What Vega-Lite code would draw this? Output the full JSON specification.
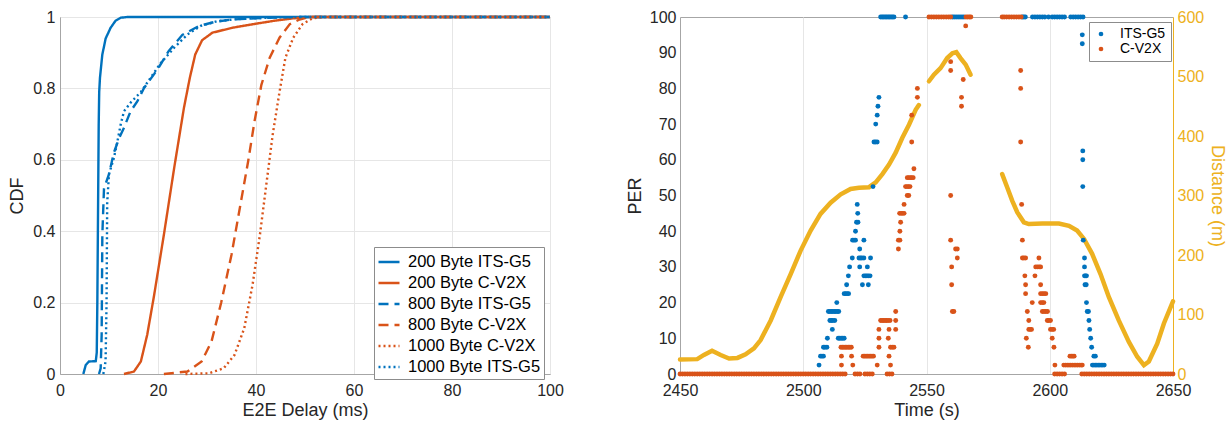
{
"$schema": "https://vega.github.io/schema/vega-lite/v6.json",
"background": "white",
"padding": {"left": 8, "top": 8, "right": 0, "bottom": 0},
"spacing": 61,
"config": {
  "font": "Liberation Sans",
  "view": {"stroke": "#a6a6a6", "strokeWidth": 1},
  "axis": {"labelFont": "Liberation Sans", "labelFontSize": 16, "labelColor": "#262626", "titleFont": "Liberation Sans", "titleFontSize": 18, "titleFontWeight": "normal", "titleColor": "#262626", "ticks": false, "domainColor": "#a6a6a6", "gridColor": "#e6e6e6", "labelFlush": false, "labelOverlap": false},
  "axisX": {"labelPadding": 8, "titlePadding": 3},
  "axisY": {"labelPadding": 5, "titlePadding": 6}
},
"datasets": {
"cdf": [
{"s":"200 Byte ITS-G5","x":4.76,"y":0},{"s":"200 Byte ITS-G5","x":5.25,"y":0.025},{"s":"200 Byte ITS-G5","x":5.9,"y":0.035},{"s":"200 Byte ITS-G5","x":7.3,"y":0.036},{"s":"200 Byte ITS-G5","x":7.5,"y":0.06},{"s":"200 Byte ITS-G5","x":7.62,"y":0.2},{"s":"200 Byte ITS-G5","x":7.76,"y":0.45},{"s":"200 Byte ITS-G5","x":7.9,"y":0.7},{"s":"200 Byte ITS-G5","x":8.0,"y":0.79},{"s":"200 Byte ITS-G5","x":8.16,"y":0.83},{"s":"200 Byte ITS-G5","x":8.64,"y":0.895},{"s":"200 Byte ITS-G5","x":9.32,"y":0.94},{"s":"200 Byte ITS-G5","x":10.34,"y":0.97},{"s":"200 Byte ITS-G5","x":11.36,"y":0.99},{"s":"200 Byte ITS-G5","x":12.4,"y":0.998},{"s":"200 Byte ITS-G5","x":13.7,"y":1},{"s":"200 Byte ITS-G5","x":100,"y":1},
{"s":"200 Byte C-V2X","x":13.06,"y":0},{"s":"200 Byte C-V2X","x":15.1,"y":0.007},{"s":"200 Byte C-V2X","x":16.5,"y":0.035},{"s":"200 Byte C-V2X","x":17.8,"y":0.11},{"s":"200 Byte C-V2X","x":19.2,"y":0.22},{"s":"200 Byte C-V2X","x":21.2,"y":0.39},{"s":"200 Byte C-V2X","x":23.3,"y":0.577},{"s":"200 Byte C-V2X","x":25.3,"y":0.746},{"s":"200 Byte C-V2X","x":26.5,"y":0.83},{"s":"200 Byte C-V2X","x":27.6,"y":0.895},{"s":"200 Byte C-V2X","x":29,"y":0.935},{"s":"200 Byte C-V2X","x":31.1,"y":0.956},{"s":"200 Byte C-V2X","x":35.2,"y":0.97},{"s":"200 Byte C-V2X","x":39.9,"y":0.981},{"s":"200 Byte C-V2X","x":44,"y":0.99},{"s":"200 Byte C-V2X","x":47.4,"y":0.996},{"s":"200 Byte C-V2X","x":50.8,"y":1},{"s":"200 Byte C-V2X","x":100,"y":1},
{"s":"800 Byte ITS-G5","x":7.96,"y":0},{"s":"800 Byte ITS-G5","x":8.3,"y":0.016},{"s":"800 Byte ITS-G5","x":8.5,"y":0.11},{"s":"800 Byte ITS-G5","x":8.64,"y":0.39},{"s":"800 Byte ITS-G5","x":8.98,"y":0.52},{"s":"800 Byte ITS-G5","x":10,"y":0.56},{"s":"800 Byte ITS-G5","x":11,"y":0.62},{"s":"800 Byte ITS-G5","x":12.04,"y":0.66},{"s":"800 Byte ITS-G5","x":13.06,"y":0.69},{"s":"800 Byte ITS-G5","x":14.4,"y":0.736},{"s":"800 Byte ITS-G5","x":15.8,"y":0.764},{"s":"800 Byte ITS-G5","x":17.1,"y":0.8},{"s":"800 Byte ITS-G5","x":19.2,"y":0.84},{"s":"800 Byte ITS-G5","x":20.2,"y":0.86},{"s":"800 Byte ITS-G5","x":22.2,"y":0.905},{"s":"800 Byte ITS-G5","x":24.97,"y":0.95},{"s":"800 Byte ITS-G5","x":28.4,"y":0.975},{"s":"800 Byte ITS-G5","x":31.8,"y":0.987},{"s":"800 Byte ITS-G5","x":35.2,"y":0.993},{"s":"800 Byte ITS-G5","x":42,"y":0.998},{"s":"800 Byte ITS-G5","x":48.8,"y":1},{"s":"800 Byte ITS-G5","x":100,"y":1},
{"s":"800 Byte C-V2X","x":21.2,"y":0},{"s":"800 Byte C-V2X","x":26,"y":0.007},{"s":"800 Byte C-V2X","x":28.9,"y":0.035},{"s":"800 Byte C-V2X","x":30.9,"y":0.09},{"s":"800 Byte C-V2X","x":32.9,"y":0.2},{"s":"800 Byte C-V2X","x":35,"y":0.334},{"s":"800 Byte C-V2X","x":36.7,"y":0.465},{"s":"800 Byte C-V2X","x":38.4,"y":0.596},{"s":"800 Byte C-V2X","x":39.7,"y":0.708},{"s":"800 Byte C-V2X","x":41.1,"y":0.81},{"s":"800 Byte C-V2X","x":42.8,"y":0.886},{"s":"800 Byte C-V2X","x":44.8,"y":0.942},{"s":"800 Byte C-V2X","x":46.9,"y":0.98},{"s":"800 Byte C-V2X","x":48.9,"y":0.993},{"s":"800 Byte C-V2X","x":50.8,"y":1},{"s":"800 Byte C-V2X","x":100,"y":1},
{"s":"1000 Byte C-V2X","x":25.6,"y":0},{"s":"1000 Byte C-V2X","x":30.4,"y":0.002},{"s":"1000 Byte C-V2X","x":33.4,"y":0.016},{"s":"1000 Byte C-V2X","x":35.6,"y":0.053},{"s":"1000 Byte C-V2X","x":37.6,"y":0.128},{"s":"1000 Byte C-V2X","x":39.3,"y":0.25},{"s":"1000 Byte C-V2X","x":40.8,"y":0.39},{"s":"1000 Byte C-V2X","x":42.1,"y":0.53},{"s":"1000 Byte C-V2X","x":43.4,"y":0.67},{"s":"1000 Byte C-V2X","x":44.8,"y":0.79},{"s":"1000 Byte C-V2X","x":46,"y":0.886},{"s":"1000 Byte C-V2X","x":47.6,"y":0.942},{"s":"1000 Byte C-V2X","x":49.5,"y":0.98},{"s":"1000 Byte C-V2X","x":51.5,"y":0.996},{"s":"1000 Byte C-V2X","x":53.5,"y":1},{"s":"1000 Byte C-V2X","x":100,"y":1},
{"s":"1000 Byte ITS-G5","x":8.84,"y":0},{"s":"1000 Byte ITS-G5","x":9.3,"y":0.035},{"s":"1000 Byte ITS-G5","x":9.5,"y":0.2},{"s":"1000 Byte ITS-G5","x":9.63,"y":0.48},{"s":"1000 Byte ITS-G5","x":10,"y":0.56},{"s":"1000 Byte ITS-G5","x":11,"y":0.605},{"s":"1000 Byte ITS-G5","x":11.7,"y":0.65},{"s":"1000 Byte ITS-G5","x":12.4,"y":0.7},{"s":"1000 Byte ITS-G5","x":13.06,"y":0.736},{"s":"1000 Byte ITS-G5","x":14.4,"y":0.76},{"s":"1000 Byte ITS-G5","x":16.5,"y":0.79},{"s":"1000 Byte ITS-G5","x":18.5,"y":0.83},{"s":"1000 Byte ITS-G5","x":20.5,"y":0.87},{"s":"1000 Byte ITS-G5","x":23.3,"y":0.914},{"s":"1000 Byte ITS-G5","x":26,"y":0.951},{"s":"1000 Byte ITS-G5","x":28.7,"y":0.975},{"s":"1000 Byte ITS-G5","x":32,"y":0.988},{"s":"1000 Byte ITS-G5","x":36,"y":0.994},{"s":"1000 Byte ITS-G5","x":44,"y":0.999},{"s":"1000 Byte ITS-G5","x":50,"y":1},{"s":"1000 Byte ITS-G5","x":100,"y":1}
],
"dist": [
{"g":1,"t":2450,"d":24.5},{"g":1,"t":2457,"d":25},{"g":1,"t":2459.7,"d":32},{"g":1,"t":2463,"d":39},{"g":1,"t":2466.5,"d":32},{"g":1,"t":2469.9,"d":26},{"g":1,"t":2473.3,"d":27},{"g":1,"t":2476.6,"d":33},{"g":1,"t":2480,"d":43},{"g":1,"t":2482.7,"d":57},{"g":1,"t":2486.8,"d":90},{"g":1,"t":2490.8,"d":129},{"g":1,"t":2494.9,"d":168},{"g":1,"t":2498.9,"d":207},{"g":1,"t":2503,"d":241},{"g":1,"t":2507,"d":269},{"g":1,"t":2511.1,"d":288},{"g":1,"t":2515.2,"d":302},{"g":1,"t":2519.2,"d":311},{"g":1,"t":2522.6,"d":313},{"g":1,"t":2526.7,"d":314},{"g":1,"t":2529.4,"d":322},{"g":1,"t":2532.1,"d":336},{"g":1,"t":2534.8,"d":352},{"g":1,"t":2537.5,"d":372},{"g":1,"t":2540.2,"d":397},{"g":1,"t":2542.9,"d":419},{"g":1,"t":2545.6,"d":444},{"g":1,"t":2546.9,"d":452},
{"g":2,"t":2551,"d":492},{"g":2,"t":2553,"d":503},{"g":2,"t":2555.7,"d":514},{"g":2,"t":2558.4,"d":531},{"g":2,"t":2560.5,"d":539},{"g":2,"t":2562.1,"d":541},{"g":2,"t":2563.8,"d":531},{"g":2,"t":2565.9,"d":520},{"g":2,"t":2567.9,"d":503},
{"g":3,"t":2580.7,"d":336},{"g":3,"t":2582.8,"d":313},{"g":3,"t":2584.8,"d":291},{"g":3,"t":2586.8,"d":272},{"g":3,"t":2589.5,"d":255},{"g":3,"t":2591.5,"d":252},{"g":3,"t":2597,"d":253},{"g":3,"t":2603.7,"d":253},{"g":3,"t":2607.8,"d":249},{"g":3,"t":2611.1,"d":241},{"g":3,"t":2613.9,"d":227},{"g":3,"t":2617.2,"d":202},{"g":3,"t":2620.6,"d":168},{"g":3,"t":2624,"d":129},{"g":3,"t":2628,"d":90},{"g":3,"t":2632.1,"d":54},{"g":3,"t":2635.5,"d":29},{"g":3,"t":2638.2,"d":15},{"g":3,"t":2640.2,"d":21},{"g":3,"t":2643.6,"d":51},{"g":3,"t":2646.3,"d":85},{"g":3,"t":2650,"d":122}
],
"per": [
{"s":"ITS-G5","t":2506.4,"p":2.5},{"s":"ITS-G5","t":2507,"p":5},{"s":"ITS-G5","t":2507.6,"p":5},{"s":"ITS-G5","t":2508.2,"p":5},{"s":"ITS-G5","t":2508.2,"p":7.5},{"s":"ITS-G5","t":2508.8,"p":7.5},{"s":"ITS-G5","t":2509.6,"p":7.5},{"s":"ITS-G5","t":2509.8,"p":10},{"s":"ITS-G5","t":2511.8,"p":12.5},
{"s":"ITS-G5","t":2510.8,"p":15},{"s":"ITS-G5","t":2511.4,"p":15},{"s":"ITS-G5","t":2512,"p":15},{"s":"ITS-G5","t":2512.8,"p":15},
{"s":"ITS-G5","t":2510.2,"p":17.5},{"s":"ITS-G5","t":2510.8,"p":17.5},{"s":"ITS-G5","t":2511.4,"p":17.5},{"s":"ITS-G5","t":2512,"p":17.5},{"s":"ITS-G5","t":2512.6,"p":17.5},{"s":"ITS-G5","t":2513.2,"p":17.5},{"s":"ITS-G5","t":2513.8,"p":17.5},{"s":"ITS-G5","t":2514.4,"p":17.5},
{"s":"ITS-G5","t":2513.6,"p":20},
{"s":"ITS-G5","t":2514.2,"p":10},{"s":"ITS-G5","t":2514.8,"p":10},{"s":"ITS-G5","t":2515.4,"p":10},{"s":"ITS-G5","t":2516,"p":10},{"s":"ITS-G5","t":2516.6,"p":10},
{"s":"ITS-G5","t":2516.6,"p":22.5},{"s":"ITS-G5","t":2517.2,"p":22.5},{"s":"ITS-G5","t":2517.8,"p":22.5},{"s":"ITS-G5","t":2518.4,"p":22.5},
{"s":"ITS-G5","t":2517.6,"p":25},{"s":"ITS-G5","t":2518.3,"p":27.5},{"s":"ITS-G5","t":2518.8,"p":30},{"s":"ITS-G5","t":2519.9,"p":32.5},
{"s":"ITS-G5","t":2520,"p":37.5},{"s":"ITS-G5","t":2520.6,"p":37.5},{"s":"ITS-G5","t":2521.2,"p":37.5},{"s":"ITS-G5","t":2521.2,"p":40},{"s":"ITS-G5","t":2521.6,"p":42.5},{"s":"ITS-G5","t":2522.2,"p":42.5},{"s":"ITS-G5","t":2522.1,"p":45},{"s":"ITS-G5","t":2521.9,"p":47.5},
{"s":"ITS-G5","t":2522.9,"p":35},{"s":"ITS-G5","t":2522.6,"p":32.5},{"s":"ITS-G5","t":2523.2,"p":32.5},{"s":"ITS-G5","t":2523.8,"p":32.5},{"s":"ITS-G5","t":2524.6,"p":32.5},{"s":"ITS-G5","t":2522.9,"p":30},{"s":"ITS-G5","t":2524,"p":25},{"s":"ITS-G5","t":2524.6,"p":37.5},
{"s":"ITS-G5","t":2524.6,"p":27.5},{"s":"ITS-G5","t":2525.2,"p":27.5},{"s":"ITS-G5","t":2525.8,"p":27.5},{"s":"ITS-G5","t":2526.4,"p":27.5},{"s":"ITS-G5","t":2527.1,"p":27.5},{"s":"ITS-G5","t":2526,"p":30},{"s":"ITS-G5","t":2526.4,"p":25},{"s":"ITS-G5","t":2527.3,"p":32.5},
{"s":"ITS-G5","t":2528.3,"p":52.5},{"s":"ITS-G5","t":2528.7,"p":65},{"s":"ITS-G5","t":2529.3,"p":65},{"s":"ITS-G5","t":2530,"p":65},{"s":"ITS-G5","t":2529.4,"p":70},{"s":"ITS-G5","t":2530,"p":72.5},{"s":"ITS-G5","t":2530.3,"p":75},{"s":"ITS-G5","t":2530.7,"p":77.5},
{"s":"ITS-G5","t":2531.4,"p":100},{"s":"ITS-G5","t":2532,"p":100},{"s":"ITS-G5","t":2532.6,"p":100},{"s":"ITS-G5","t":2533.2,"p":100},{"s":"ITS-G5","t":2533.8,"p":100},{"s":"ITS-G5","t":2534.4,"p":100},{"s":"ITS-G5","t":2535,"p":100},{"s":"ITS-G5","t":2535.6,"p":100},{"s":"ITS-G5","t":2536.2,"p":100},{"s":"ITS-G5","t":2536.8,"p":100},{"s":"ITS-G5","t":2541.5,"p":100},
{"s":"ITS-G5","t":2560.5,"p":100},{"s":"ITS-G5","t":2561.2,"p":100},{"s":"ITS-G5","t":2562,"p":100},{"s":"ITS-G5","t":2562.8,"p":100},{"s":"ITS-G5","t":2563.6,"p":100},{"s":"ITS-G5","t":2564.4,"p":100},{"s":"ITS-G5","t":2565.2,"p":100},
{"s":"ITS-G5","t":2588.9,"p":100},{"s":"ITS-G5","t":2589.5,"p":100},{"s":"ITS-G5","t":2590.1,"p":100},
{"s":"ITS-G5","t":2593,"p":100},{"s":"ITS-G5","t":2594,"p":100},{"s":"ITS-G5","t":2595,"p":100},{"s":"ITS-G5","t":2596,"p":100},{"s":"ITS-G5","t":2597,"p":100},{"s":"ITS-G5","t":2598,"p":100},{"s":"ITS-G5","t":2599.5,"p":100},{"s":"ITS-G5","t":2601,"p":100},{"s":"ITS-G5","t":2602,"p":100},{"s":"ITS-G5","t":2603,"p":100},{"s":"ITS-G5","t":2604,"p":100},{"s":"ITS-G5","t":2605,"p":100},{"s":"ITS-G5","t":2606,"p":100},{"s":"ITS-G5","t":2608.5,"p":100},{"s":"ITS-G5","t":2609.5,"p":100},{"s":"ITS-G5","t":2610.5,"p":100},{"s":"ITS-G5","t":2611.5,"p":100},{"s":"ITS-G5","t":2612.5,"p":100},{"s":"ITS-G5","t":2613.5,"p":100},
{"s":"ITS-G5","t":2613.2,"p":95},{"s":"ITS-G5","t":2613.2,"p":92.5},{"s":"ITS-G5","t":2613.4,"p":62.5},{"s":"ITS-G5","t":2613.4,"p":60},{"s":"ITS-G5","t":2613.4,"p":52.5},{"s":"ITS-G5","t":2613.6,"p":37.5},{"s":"ITS-G5","t":2614.1,"p":32.5},{"s":"ITS-G5","t":2614.1,"p":30},
{"s":"ITS-G5","t":2614.1,"p":27.5},{"s":"ITS-G5","t":2614.5,"p":27.5},{"s":"ITS-G5","t":2614.9,"p":27.5},{"s":"ITS-G5","t":2614.3,"p":25},{"s":"ITS-G5","t":2614.8,"p":25},{"s":"ITS-G5","t":2614.9,"p":20},{"s":"ITS-G5","t":2615.2,"p":17.5},{"s":"ITS-G5","t":2615.7,"p":17.5},{"s":"ITS-G5","t":2615.9,"p":15},{"s":"ITS-G5","t":2616.2,"p":12.5},{"s":"ITS-G5","t":2616.6,"p":10},{"s":"ITS-G5","t":2617,"p":7.5},{"s":"ITS-G5","t":2617.9,"p":5},{"s":"ITS-G5","t":2618.5,"p":5},
{"s":"ITS-G5","t":2617.3,"p":2.5},{"s":"ITS-G5","t":2617.9,"p":2.5},{"s":"ITS-G5","t":2618.5,"p":2.5},{"s":"ITS-G5","t":2619.1,"p":2.5},{"s":"ITS-G5","t":2619.7,"p":2.5},{"s":"ITS-G5","t":2620.3,"p":2.5},{"s":"ITS-G5","t":2620.9,"p":2.5},{"s":"ITS-G5","t":2621.5,"p":2.5},{"s":"ITS-G5","t":2622.1,"p":2.5},
{"s":"C-V2X","t":2450,"p":0},{"s":"C-V2X","t":2451,"p":0},{"s":"C-V2X","t":2452,"p":0},{"s":"C-V2X","t":2453,"p":0},{"s":"C-V2X","t":2454,"p":0},{"s":"C-V2X","t":2455,"p":0},{"s":"C-V2X","t":2456,"p":0},{"s":"C-V2X","t":2457,"p":0},{"s":"C-V2X","t":2458,"p":0},{"s":"C-V2X","t":2459,"p":0},
{"s":"C-V2X","t":2460,"p":0},{"s":"C-V2X","t":2461,"p":0},{"s":"C-V2X","t":2462,"p":0},{"s":"C-V2X","t":2463,"p":0},{"s":"C-V2X","t":2464,"p":0},{"s":"C-V2X","t":2465,"p":0},{"s":"C-V2X","t":2466,"p":0},{"s":"C-V2X","t":2467,"p":0},{"s":"C-V2X","t":2468,"p":0},{"s":"C-V2X","t":2469,"p":0},
{"s":"C-V2X","t":2470,"p":0},{"s":"C-V2X","t":2471,"p":0},{"s":"C-V2X","t":2472,"p":0},{"s":"C-V2X","t":2473,"p":0},{"s":"C-V2X","t":2474,"p":0},{"s":"C-V2X","t":2475,"p":0},{"s":"C-V2X","t":2476,"p":0},{"s":"C-V2X","t":2477,"p":0},{"s":"C-V2X","t":2478,"p":0},{"s":"C-V2X","t":2479,"p":0},
{"s":"C-V2X","t":2480,"p":0},{"s":"C-V2X","t":2481,"p":0},{"s":"C-V2X","t":2482,"p":0},{"s":"C-V2X","t":2483,"p":0},{"s":"C-V2X","t":2484,"p":0},{"s":"C-V2X","t":2485,"p":0},{"s":"C-V2X","t":2486,"p":0},{"s":"C-V2X","t":2487,"p":0},{"s":"C-V2X","t":2488,"p":0},{"s":"C-V2X","t":2489,"p":0},
{"s":"C-V2X","t":2490,"p":0},{"s":"C-V2X","t":2491,"p":0},{"s":"C-V2X","t":2492,"p":0},{"s":"C-V2X","t":2493,"p":0},{"s":"C-V2X","t":2494,"p":0},{"s":"C-V2X","t":2495,"p":0},{"s":"C-V2X","t":2496,"p":0},{"s":"C-V2X","t":2497,"p":0},{"s":"C-V2X","t":2498,"p":0},{"s":"C-V2X","t":2499,"p":0},
{"s":"C-V2X","t":2500,"p":0},{"s":"C-V2X","t":2501,"p":0},{"s":"C-V2X","t":2502,"p":0},{"s":"C-V2X","t":2503,"p":0},{"s":"C-V2X","t":2504,"p":0},{"s":"C-V2X","t":2505,"p":0},{"s":"C-V2X","t":2506,"p":0},{"s":"C-V2X","t":2507,"p":0},{"s":"C-V2X","t":2508,"p":0},{"s":"C-V2X","t":2509,"p":0},
{"s":"C-V2X","t":2510,"p":0},{"s":"C-V2X","t":2511,"p":0},{"s":"C-V2X","t":2512,"p":0},{"s":"C-V2X","t":2513,"p":0},{"s":"C-V2X","t":2514,"p":0},{"s":"C-V2X","t":2515,"p":0},{"s":"C-V2X","t":2516,"p":0},{"s":"C-V2X","t":2517,"p":0},
{"s":"C-V2X","t":2521,"p":0},{"s":"C-V2X","t":2522,"p":0},{"s":"C-V2X","t":2523,"p":0},{"s":"C-V2X","t":2525,"p":0},{"s":"C-V2X","t":2526,"p":0},{"s":"C-V2X","t":2527,"p":0},{"s":"C-V2X","t":2528,"p":0},{"s":"C-V2X","t":2534,"p":0},{"s":"C-V2X","t":2535,"p":0},{"s":"C-V2X","t":2536,"p":0},
{"s":"C-V2X","t":2602,"p":0},{"s":"C-V2X","t":2603,"p":0},{"s":"C-V2X","t":2604,"p":0},{"s":"C-V2X","t":2605,"p":0},{"s":"C-V2X","t":2606,"p":0},
{"s":"C-V2X","t":2613,"p":0},{"s":"C-V2X","t":2614,"p":0},{"s":"C-V2X","t":2615,"p":0},{"s":"C-V2X","t":2616,"p":0},{"s":"C-V2X","t":2617,"p":0},{"s":"C-V2X","t":2618,"p":0},{"s":"C-V2X","t":2619,"p":0},{"s":"C-V2X","t":2620,"p":0},{"s":"C-V2X","t":2621,"p":0},{"s":"C-V2X","t":2622,"p":0},
{"s":"C-V2X","t":2623,"p":0},{"s":"C-V2X","t":2624,"p":0},{"s":"C-V2X","t":2625,"p":0},{"s":"C-V2X","t":2626,"p":0},{"s":"C-V2X","t":2627,"p":0},{"s":"C-V2X","t":2628,"p":0},{"s":"C-V2X","t":2629,"p":0},{"s":"C-V2X","t":2630,"p":0},{"s":"C-V2X","t":2631,"p":0},{"s":"C-V2X","t":2632,"p":0},
{"s":"C-V2X","t":2633,"p":0},{"s":"C-V2X","t":2634,"p":0},{"s":"C-V2X","t":2635,"p":0},{"s":"C-V2X","t":2636,"p":0},{"s":"C-V2X","t":2637,"p":0},{"s":"C-V2X","t":2638,"p":0},{"s":"C-V2X","t":2639,"p":0},{"s":"C-V2X","t":2640,"p":0},{"s":"C-V2X","t":2641,"p":0},{"s":"C-V2X","t":2642,"p":0},
{"s":"C-V2X","t":2643,"p":0},{"s":"C-V2X","t":2644,"p":0},{"s":"C-V2X","t":2645,"p":0},{"s":"C-V2X","t":2646,"p":0},{"s":"C-V2X","t":2647,"p":0},{"s":"C-V2X","t":2648,"p":0},{"s":"C-V2X","t":2649,"p":0},{"s":"C-V2X","t":2650,"p":0},
{"s":"C-V2X","t":2515.5,"p":2.5},{"s":"C-V2X","t":2515.5,"p":5},
{"s":"C-V2X","t":2515.3,"p":7.5},{"s":"C-V2X","t":2515.9,"p":7.5},{"s":"C-V2X","t":2516.5,"p":7.5},{"s":"C-V2X","t":2517.1,"p":7.5},{"s":"C-V2X","t":2517.7,"p":7.5},{"s":"C-V2X","t":2518.3,"p":7.5},{"s":"C-V2X","t":2518.9,"p":7.5},{"s":"C-V2X","t":2519.5,"p":7.5},
{"s":"C-V2X","t":2519.6,"p":5},{"s":"C-V2X","t":2520.1,"p":2.5},
{"s":"C-V2X","t":2524.3,"p":5},{"s":"C-V2X","t":2524.9,"p":5},{"s":"C-V2X","t":2525.5,"p":5},{"s":"C-V2X","t":2526.1,"p":5},{"s":"C-V2X","t":2526.7,"p":5},{"s":"C-V2X","t":2527.3,"p":5},{"s":"C-V2X","t":2527.9,"p":5},{"s":"C-V2X","t":2528.5,"p":5},
{"s":"C-V2X","t":2530,"p":2.5},{"s":"C-V2X","t":2530.7,"p":12.5},{"s":"C-V2X","t":2530.7,"p":10},{"s":"C-V2X","t":2530.7,"p":7.5},
{"s":"C-V2X","t":2531.4,"p":15},{"s":"C-V2X","t":2532,"p":15},{"s":"C-V2X","t":2532.6,"p":15},{"s":"C-V2X","t":2533.2,"p":15},{"s":"C-V2X","t":2533.8,"p":15},{"s":"C-V2X","t":2534.4,"p":15},{"s":"C-V2X","t":2535.2,"p":15},
{"s":"C-V2X","t":2534.5,"p":10},{"s":"C-V2X","t":2534.8,"p":12.5},{"s":"C-V2X","t":2534.8,"p":5},{"s":"C-V2X","t":2535.4,"p":2.5},{"s":"C-V2X","t":2535.4,"p":7.5},{"s":"C-V2X","t":2536.1,"p":7.5},{"s":"C-V2X","t":2536.8,"p":7.5},
{"s":"C-V2X","t":2537.5,"p":17.5},{"s":"C-V2X","t":2537.5,"p":15},{"s":"C-V2X","t":2537.5,"p":12.5},
{"s":"C-V2X","t":2538.6,"p":35},{"s":"C-V2X","t":2538.6,"p":37.5},{"s":"C-V2X","t":2539.2,"p":37.5},{"s":"C-V2X","t":2539.2,"p":40},{"s":"C-V2X","t":2539.5,"p":42.5},
{"s":"C-V2X","t":2539.1,"p":45},{"s":"C-V2X","t":2539.7,"p":45},{"s":"C-V2X","t":2540.3,"p":45},{"s":"C-V2X","t":2540.9,"p":45},{"s":"C-V2X","t":2540.9,"p":47.5},
{"s":"C-V2X","t":2542.2,"p":50},{"s":"C-V2X","t":2542.8,"p":50},{"s":"C-V2X","t":2541.5,"p":52.5},{"s":"C-V2X","t":2542.1,"p":52.5},{"s":"C-V2X","t":2542.7,"p":52.5},{"s":"C-V2X","t":2543.3,"p":52.5},
{"s":"C-V2X","t":2542.2,"p":55},{"s":"C-V2X","t":2542.8,"p":55},{"s":"C-V2X","t":2543.4,"p":55},{"s":"C-V2X","t":2544,"p":55},{"s":"C-V2X","t":2544.6,"p":55},{"s":"C-V2X","t":2544.9,"p":57.5},
{"s":"C-V2X","t":2544,"p":65},{"s":"C-V2X","t":2544,"p":72.5},{"s":"C-V2X","t":2546.3,"p":77.5},{"s":"C-V2X","t":2546.3,"p":80},
{"s":"C-V2X","t":2551,"p":100},{"s":"C-V2X","t":2552,"p":100},{"s":"C-V2X","t":2553,"p":100},{"s":"C-V2X","t":2554,"p":100},{"s":"C-V2X","t":2555,"p":100},{"s":"C-V2X","t":2556,"p":100},{"s":"C-V2X","t":2557,"p":100},{"s":"C-V2X","t":2558,"p":100},{"s":"C-V2X","t":2559,"p":100},{"s":"C-V2X","t":2559.8,"p":100},
{"s":"C-V2X","t":2565.9,"p":97.5},{"s":"C-V2X","t":2559.8,"p":87.5},{"s":"C-V2X","t":2559.8,"p":85},{"s":"C-V2X","t":2564.9,"p":82.5},{"s":"C-V2X","t":2564.2,"p":77.5},{"s":"C-V2X","t":2564.2,"p":75},
{"s":"C-V2X","t":2559.8,"p":50},{"s":"C-V2X","t":2559.8,"p":37.5},{"s":"C-V2X","t":2561.8,"p":35},{"s":"C-V2X","t":2562.5,"p":35},{"s":"C-V2X","t":2562.5,"p":32.5},{"s":"C-V2X","t":2560.2,"p":30},{"s":"C-V2X","t":2560.2,"p":25},{"s":"C-V2X","t":2560.5,"p":17.5},{"s":"C-V2X","t":2561.1,"p":17.5},
{"s":"C-V2X","t":2566,"p":100},{"s":"C-V2X","t":2566.7,"p":100},{"s":"C-V2X","t":2567.4,"p":100},{"s":"C-V2X","t":2568,"p":100},
{"s":"C-V2X","t":2580.7,"p":100},{"s":"C-V2X","t":2581.5,"p":100},{"s":"C-V2X","t":2582.5,"p":100},{"s":"C-V2X","t":2583.5,"p":100},{"s":"C-V2X","t":2584.5,"p":100},{"s":"C-V2X","t":2585.5,"p":100},{"s":"C-V2X","t":2586.5,"p":100},{"s":"C-V2X","t":2587.5,"p":100},{"s":"C-V2X","t":2588.4,"p":100},
{"s":"C-V2X","t":2588.2,"p":85},{"s":"C-V2X","t":2588.2,"p":80},{"s":"C-V2X","t":2588.2,"p":65},{"s":"C-V2X","t":2588.6,"p":47.5},{"s":"C-V2X","t":2588.9,"p":37.5},
{"s":"C-V2X","t":2588.9,"p":32.5},{"s":"C-V2X","t":2589.5,"p":32.5},{"s":"C-V2X","t":2590.2,"p":32.5},{"s":"C-V2X","t":2589.9,"p":27.5},{"s":"C-V2X","t":2590.2,"p":25},{"s":"C-V2X","t":2590.2,"p":22.5},{"s":"C-V2X","t":2590.9,"p":17.5},{"s":"C-V2X","t":2591.5,"p":15},
{"s":"C-V2X","t":2591.5,"p":12.5},{"s":"C-V2X","t":2592.1,"p":12.5},{"s":"C-V2X","t":2592.6,"p":12.5},{"s":"C-V2X","t":2590.5,"p":10},{"s":"C-V2X","t":2591.3,"p":7.5},
{"s":"C-V2X","t":2595.6,"p":32.5},{"s":"C-V2X","t":2594.3,"p":30},{"s":"C-V2X","t":2595,"p":30},{"s":"C-V2X","t":2595.7,"p":30},{"s":"C-V2X","t":2596.3,"p":30},{"s":"C-V2X","t":2594,"p":27.5},{"s":"C-V2X","t":2596.3,"p":25},{"s":"C-V2X","t":2592.9,"p":20},
{"s":"C-V2X","t":2596.3,"p":22.5},{"s":"C-V2X","t":2597,"p":22.5},{"s":"C-V2X","t":2597.7,"p":22.5},{"s":"C-V2X","t":2598.4,"p":22.5},{"s":"C-V2X","t":2596.3,"p":20},{"s":"C-V2X","t":2597,"p":20},{"s":"C-V2X","t":2597.6,"p":20},
{"s":"C-V2X","t":2597,"p":17.5},{"s":"C-V2X","t":2597.7,"p":17.5},{"s":"C-V2X","t":2598.4,"p":17.5},{"s":"C-V2X","t":2599.1,"p":17.5},{"s":"C-V2X","t":2599,"p":15},{"s":"C-V2X","t":2599.6,"p":15},{"s":"C-V2X","t":2600.3,"p":15},
{"s":"C-V2X","t":2600.3,"p":12.5},{"s":"C-V2X","t":2601,"p":12.5},{"s":"C-V2X","t":2601.6,"p":12.5},{"s":"C-V2X","t":2601,"p":10},{"s":"C-V2X","t":2601.7,"p":7.5},{"s":"C-V2X","t":2602.1,"p":2.5},
{"s":"C-V2X","t":2605.7,"p":2.5},{"s":"C-V2X","t":2606.4,"p":2.5},{"s":"C-V2X","t":2607.1,"p":2.5},{"s":"C-V2X","t":2607.8,"p":2.5},{"s":"C-V2X","t":2608.5,"p":2.5},{"s":"C-V2X","t":2609.2,"p":2.5},{"s":"C-V2X","t":2609.9,"p":2.5},{"s":"C-V2X","t":2610.6,"p":2.5},{"s":"C-V2X","t":2611.3,"p":2.5},{"s":"C-V2X","t":2612,"p":2.5},{"s":"C-V2X","t":2612.7,"p":2.5},{"s":"C-V2X","t":2613.2,"p":2.5},
{"s":"C-V2X","t":2608.2,"p":5},{"s":"C-V2X","t":2608.8,"p":5},{"s":"C-V2X","t":2609.4,"p":5},{"s":"C-V2X","t":2609.9,"p":5}
]
},
"hconcat": [
{
  "width": 490, "height": 357,
  "data": {"name": "cdf"},
  "mark": {"type": "line", "strokeWidth": 2.4},
  "encoding": {
    "x": {"field": "x", "type": "quantitative", "scale": {"domain": [0, 100], "nice": false}, "axis": {"title": "E2E Delay (ms)", "values": [0, 20, 40, 60, 80, 100]}},
    "y": {"field": "y", "type": "quantitative", "scale": {"domain": [0, 1], "nice": false}, "axis": {"title": "CDF", "values": [0, 0.2, 0.4, 0.6, 0.8, 1], "format": ".1~f"}},
    "color": {"field": "s", "type": "nominal",
      "scale": {"domain": ["200 Byte ITS-G5", "200 Byte C-V2X", "800 Byte ITS-G5", "800 Byte C-V2X", "1000 Byte C-V2X", "1000 Byte ITS-G5"], "range": ["#0072BD", "#D95319", "#0072BD", "#D95319", "#D95319", "#0072BD"]},
      "legend": {"orient": "none", "legendX": 314, "legendY": 230, "title": null, "fillColor": "white", "strokeColor": "#8c8c8c", "padding": 3, "symbolType": "stroke", "symbolSize": 441, "symbolStrokeWidth": 2.5, "labelFontSize": 16.5, "labelFont": "Liberation Sans", "labelColor": "#000000", "rowPadding": -2, "labelOffset": 7}},
    "strokeDash": {"field": "s", "type": "nominal",
      "scale": {"domain": ["200 Byte ITS-G5", "200 Byte C-V2X", "800 Byte ITS-G5", "800 Byte C-V2X", "1000 Byte C-V2X", "1000 Byte ITS-G5"], "range": [[1, 0], [1, 0], [10, 6], [10, 6], [2, 3], [2, 3]]},
      "legend": {"orient": "none", "legendX": 314, "legendY": 230, "title": null, "fillColor": "white", "strokeColor": "#8c8c8c", "padding": 3, "symbolType": "stroke", "symbolSize": 441, "symbolStrokeWidth": 2.5, "labelFontSize": 16.5, "labelFont": "Liberation Sans", "labelColor": "#000000", "rowPadding": -2, "labelOffset": 7}}
  }
},
{
  "width": 493, "height": 357,
  "layer": [
    {
      "data": {"name": "dist"},
      "mark": {"type": "line", "color": "#EDB120", "strokeWidth": 4.5, "strokeCap": "round"},
      "encoding": {
        "x": {"field": "t", "type": "quantitative", "scale": {"domain": [2450, 2650], "nice": false}, "axis": {"title": "Time (s)", "values": [2450, 2500, 2550, 2600, 2650], "format": "d"}},
        "y": {"field": "d", "type": "quantitative", "scale": {"domain": [0, 600], "nice": false}, "axis": {"orient": "right", "title": "Distance (m)", "values": [0, 100, 200, 300, 400, 500, 600], "grid": false, "labelColor": "#EDB120", "titleColor": "#EDB120", "domainColor": "#EDB120", "labelPadding": 4, "titlePadding": 4}},
        "detail": {"field": "g", "type": "nominal"}
      }
    },
    {
      "data": {"name": "per"},
      "mark": {"type": "point", "filled": true, "size": 24, "opacity": 1},
      "encoding": {
        "x": {"field": "t", "type": "quantitative", "scale": {"domain": [2450, 2650], "nice": false}, "axis": {"title": "Time (s)", "values": [2450, 2500, 2550, 2600, 2650], "format": "d"}},
        "y": {"field": "p", "type": "quantitative", "scale": {"domain": [0, 100], "nice": false}, "axis": {"orient": "left", "title": "PER", "values": [0, 10, 20, 30, 40, 50, 60, 70, 80, 90, 100], "labelPadding": 4, "titlePadding": 5}},
        "color": {"field": "s", "type": "nominal", "scale": {"domain": ["ITS-G5", "C-V2X"], "range": ["#0072BD", "#D95319"]},
          "legend": {"orient": "none", "legendX": 409, "legendY": 5, "title": null, "fillColor": "white", "strokeColor": "#8c8c8c", "padding": 5, "symbolType": "circle", "symbolSize": 22, "labelFontSize": 14, "labelFont": "Liberation Sans", "labelColor": "#000000", "rowPadding": 1, "labelOffset": 12}}
      }
    }
  ],
  "resolve": {"scale": {"y": "independent"}}
}
],
"resolve": {"scale": {"color": "independent", "strokeDash": "independent"}, "legend": {"color": "independent", "strokeDash": "independent"}}
}
